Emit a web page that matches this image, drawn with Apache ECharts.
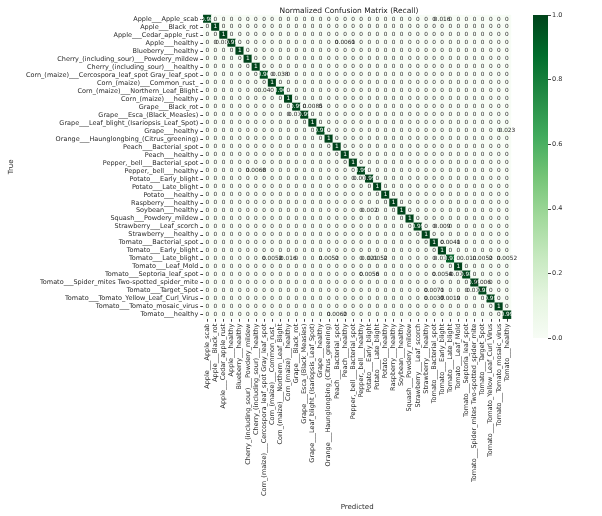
<!DOCTYPE html>
<html>
<head>
<meta charset="utf-8">
<title>Normalized Confusion Matrix</title>
<script src="https://cdn.jsdelivr.net/npm/echarts@6/dist/echarts.min.js"></script>
<style>
    html, body { margin: 0; padding: 0; background: #fff; }
    #main { width: 602px; height: 516px; }
</style>
</head>
<body>
<div id="main"></div>
<script>
// class names, same order on both axes
var classNames = [
    'Apple___Apple_scab', 'Apple___Black_rot', 'Apple___Cedar_apple_rust', 'Apple___healthy',
    'Blueberry___healthy', 'Cherry_(including_sour)___Powdery_mildew', 'Cherry_(including_sour)___healthy',
    'Corn_(maize)___Cercospora_leaf_spot Gray_leaf_spot', 'Corn_(maize)___Common_rust_',
    'Corn_(maize)___Northern_Leaf_Blight', 'Corn_(maize)___healthy', 'Grape___Black_rot',
    'Grape___Esca_(Black_Measles)', 'Grape___Leaf_blight_(Isariopsis_Leaf_Spot)', 'Grape___healthy',
    'Orange___Haunglongbing_(Citrus_greening)', 'Peach___Bacterial_spot', 'Peach___healthy',
    'Pepper,_bell___Bacterial_spot', 'Pepper,_bell___healthy', 'Potato___Early_blight',
    'Potato___Late_blight', 'Potato___healthy', 'Raspberry___healthy', 'Soybean___healthy',
    'Squash___Powdery_mildew', 'Strawberry___Leaf_scorch', 'Strawberry___healthy',
    'Tomato___Bacterial_spot', 'Tomato___Early_blight', 'Tomato___Late_blight', 'Tomato___Leaf_Mold',
    'Tomato___Septoria_leaf_spot', 'Tomato___Spider_mites Two-spotted_spider_mite', 'Tomato___Target_Spot',
    'Tomato___Tomato_Yellow_Leaf_Curl_Virus', 'Tomato___Tomato_mosaic_virus', 'Tomato___healthy'
]

// recall on the diagonal (row i, col i)
var diagonal = [
    0.984, 1, 1, 0.991, 1, 1, 1, 0.962, 1, 0.96,
    1, 0.9915, 0.989, 1, 0.977, 1, 1, 1, 1, 0.993,
    0.994, 1, 1, 1, 0.998, 1, 0.991, 1, 0.9959, 1,
    0.91, 1, 0.978, 0.994, 0.979, 0.994, 1, 0.994
]

// off diagonal cells: [true row, predicted col, value]
var offDiagonal = [
    [0, 29, 0.016],
    [3, 2, 0.003], [3, 17, 0.0061],
    [7, 9, 0.038],
    [9, 7, 0.04],
    [11, 13, 0.0085],
    [12, 11, 0.011],
    [14, 37, 0.023],
    [19, 6, 0.0068],
    [20, 19, 0.006],
    [24, 20, 0.002],
    [26, 29, 0.009],
    [28, 30, 0.0041],
    [30, 8, 0.0052], [30, 10, 0.016], [30, 15, 0.0052], [30, 20, 0.021], [30, 21, 0.0052],
    [30, 29, 0.018], [30, 32, 0.01], [30, 34, 0.0052], [30, 37, 0.0052],
    [32, 20, 0.0056], [32, 29, 0.0054], [32, 31, 0.011],
    [33, 34, 0.006],
    [34, 28, 0.0071], [34, 33, 0.014],
    [35, 28, 0.0037], [35, 30, 0.0019],
    [37, 16, 0.0062]
]

var colorbarTicks = [0, 0.2, 0.4, 0.6, 0.8, 1.0]

// matplotlib "Greens"
var greens = ['#f7fcf5', '#e5f5e0', '#c7e9c0', '#a1d99b', '#74c476', '#41ab5d', '#238b45', '#006d2c', '#00441b']

// like python '.2g'
function fmt(v) {
    if (v === 0) return '0'
    return String(Number(v.toPrecision(2)))
}

window.onload = function () {
    var n = classNames.length
    var matrix = []
    for (var i = 0; i < n; i++) {
        matrix.push([])
        for (var j = 0; j < n; j++) {
            matrix[i].push(i === j ? diagonal[i] : 0)
        }
    }
    for (var k = 0; k < offDiagonal.length; k++) {
        matrix[offDiagonal[k][0]][offDiagonal[k][1]] = offDiagonal[k][2]
    }

    var cells = []
    for (var r = 0; r < n; r++) {
        for (var c = 0; c < n; c++) {
            var v = matrix[r][c]
            cells.push({
                value: [c, r, v],
                label: { color: v > 0.5 ? '#ffffff' : '#262626' }
            })
        }
    }

    var stops = []
    for (var s = 0; s < greens.length; s++) {
        stops.push({ offset: s / (greens.length - 1), color: greens[s] })
    }

    var labelFont = { fontFamily: 'DejaVu Sans', fontSize: 6.5, color: '#2b2b2b' }

    var myChart = echarts.init(document.getElementById('main'))
    var option = {
        animation: false,
        backgroundColor: '#fff',
        title: {
            text: 'Normalized Confusion Matrix (Recall)',
            left: 344,
            textAlign: 'center',
            top: 2,
            textStyle: { fontFamily: 'DejaVu Sans', fontSize: 7.5, fontWeight: 'normal', color: '#222' }
        },
        grid: [
            { left: 177, top: 15, width: 334, height: 324 },
            { left: 533, top: 15, width: 15, height: 323 }
        ],
        xAxis: [
            {
                type: 'category',
                gridIndex: 0,
                data: classNames,
                name: 'Predicted',
                nameLocation: 'middle',
                nameGap: 166,
                nameTextStyle: { fontFamily: 'DejaVu Sans', fontSize: 7, color: '#2b2b2b' },
                axisLine: { show: false },
                axisTick: { show: true, alignWithLabel: true, interval: 0, length: 3, lineStyle: { color: '#444' } },
                axisLabel: Object.assign({ rotate: 90, interval: 0, margin: 5 }, labelFont),
                splitLine: { show: false }
            },
            {
                type: 'category',
                gridIndex: 1,
                data: [''],
                show: false
            }
        ],
        yAxis: [
            {
                type: 'category',
                gridIndex: 0,
                data: classNames,
                inverse: true,
                name: 'True',
                nameLocation: 'middle',
                nameGap: 158,
                nameRotate: 90,
                nameTextStyle: { fontFamily: 'DejaVu Sans', fontSize: 7, color: '#2b2b2b' },
                axisLine: { show: false },
                axisTick: { show: true, alignWithLabel: true, interval: 0, length: 3, lineStyle: { color: '#444' } },
                axisLabel: Object.assign({ interval: 0, margin: 5 }, labelFont),
                splitLine: { show: false }
            },
            {
                type: 'value',
                gridIndex: 1,
                min: 0,
                max: 1,
                interval: 0.2,
                position: 'right',
                axisLine: { show: false },
                axisTick: { show: true, length: 3, lineStyle: { color: '#444' } },
                axisLabel: Object.assign({}, labelFont, {
                    margin: 4,
                    formatter: function (val) {
                        for (var t = 0; t < colorbarTicks.length; t++) {
                            if (Math.abs(colorbarTicks[t] - val) < 1e-6) return colorbarTicks[t].toFixed(1)
                        }
                        return ''
                    }
                }),
                splitLine: { show: false }
            }
        ],
        visualMap: {
            show: false,
            type: 'continuous',
            seriesIndex: 0,
            min: 0,
            max: 1,
            dimension: 2,
            inRange: { color: greens }
        },
        series: [
            {
                type: 'heatmap',
                xAxisIndex: 0,
                yAxisIndex: 0,
                data: cells,
                itemStyle: { borderWidth: 0 },
                label: {
                    show: true,
                    fontFamily: 'DejaVu Sans',
                    fontSize: 5.8,
                    formatter: function (p) { return fmt(p.value[2]) }
                },
                emphasis: { disabled: true }
            },
            {
                // colorbar
                type: 'bar',
                xAxisIndex: 1,
                yAxisIndex: 1,
                data: [1],
                barWidth: '100%',
                silent: true,
                itemStyle: { color: new echarts.graphic.LinearGradient(0, 1, 0, 0, stops) }
            }
        ]
    }

    myChart.setOption(option)
}
</script>
</body>
</html>
